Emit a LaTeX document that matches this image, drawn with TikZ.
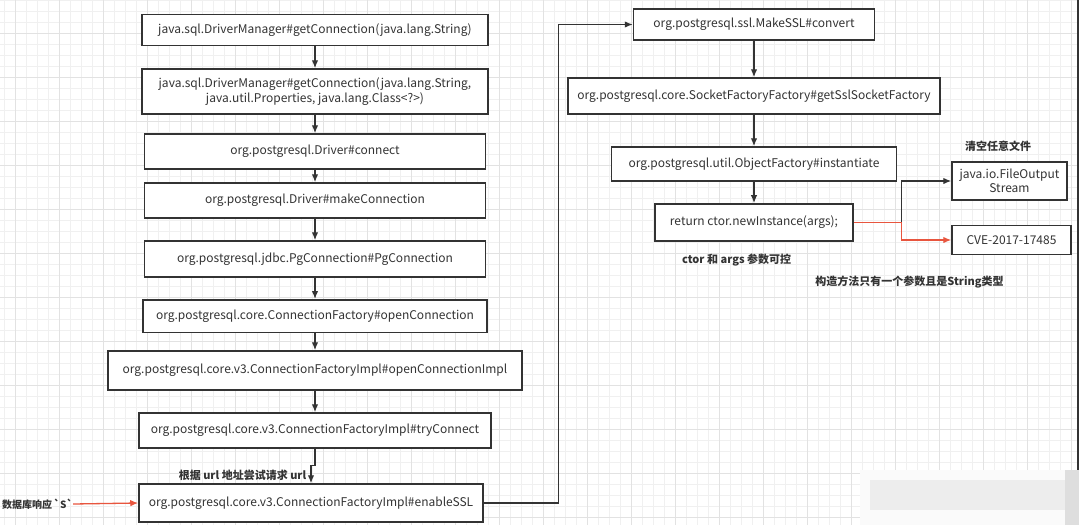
\documentclass[tikz,border=0pt]{standalone}
\usepackage{fontspec}
\setmainfont{Noto Sans CJK SC}
\usetikzlibrary{arrows.meta}
\definecolor{cfdark}{HTML}{333333}
\definecolor{cfred}{HTML}{E8553E}
\definecolor{cfminor}{HTML}{F0F0F0}
\definecolor{cfmajor}{HTML}{E2E2E2}
\tikzset{
  cfbox/.style={rectangle, draw=cfdark, line width=1.5pt, fill=white,
                text=cfdark, inner sep=0pt, align=center,
                font=\fontsize{12}{14.5}\selectfont},
  cfplain/.style={draw=cfdark, line width=1.3pt},
  cflink/.style={cfplain, -{Latex[length=8pt,width=6.5pt]}},
  cfalert/.style={draw=cfred, line width=1.3pt, -{Latex[length=8pt,width=6.5pt]}},
  cfnote/.style={text=cfdark, inner sep=0pt,
                 font=\fontsize{11}{13}\selectfont\bfseries},
  gridminor/.style={draw=cfminor, line width=0.8pt},
  gridmajor/.style={draw=cfmajor, line width=0.8pt}
}

\begin{document}
\begin{tikzpicture}[x=1pt, y=-1pt]
  \useasboundingbox (0,0) rectangle (1079,525);
  \fill[white] (0,0) rectangle (1079,525);
  \foreach \x in {4.3,15.3,...,1078} \draw[gridminor] (\x,0) -- (\x,525);
  \foreach \y in {0.3,11.3,...,525} \draw[gridminor] (0,\y) -- (1079,\y);
  \foreach \x in {15.3,59.3,...,1078} \draw[gridmajor] (\x,0) -- (\x,525);
  \foreach \y in {33.3,77.3,...,525} \draw[gridmajor] (0,\y) -- (1079,\y);

  % left column
  \node[cfbox, minimum width=346pt, minimum height=31pt] (getconn) at (315,30)
    {java.sql.DriverManager\#getConnection(java.lang.String)};
  \node[cfbox, minimum width=346pt, minimum height=45pt] (getconnprops) at (315,91.5)
    {java.sql.DriverManager\#getConnection(java.lang.String,\\
     java.util.Properties, java.lang.Class<?>)};
  \node[cfbox, minimum width=341pt, minimum height=35pt] (connect) at (315,151.5)
    {org.postgresql.Driver\#connect};
  \node[cfbox, minimum width=341pt, minimum height=35pt] (makeconn) at (315,200.5)
    {org.postgresql.Driver\#makeConnection};
  \node[cfbox, minimum width=341pt, minimum height=36pt] (pgconn) at (315,259)
    {org.postgresql.jdbc.PgConnection\#PgConnection};
  \node[cfbox, minimum width=344pt, minimum height=32.5pt] (openconn) at (315,316)
    {org.postgresql.core.ConnectionFactory\#openConnection};
  \node[cfbox, minimum width=414pt, minimum height=39pt] (openconnimpl) at (315,370.5)
    {org.postgresql.core.v3.ConnectionFactoryImpl\#openConnectionImpl};
  \node[cfbox, minimum width=352pt, minimum height=35pt] (tryconnect) at (315,430.5)
    {org.postgresql.core.v3.ConnectionFactoryImpl\#tryConnect};
  \node[cfbox, minimum width=344pt, minimum height=38pt] (enablessl) at (311,503)
    {org.postgresql.core.v3.ConnectionFactoryImpl\#enableSSL};

  % right column
  \node[cfbox, minimum width=241pt, minimum height=31pt] (makessl) at (754,24.5)
    {org.postgresql.ssl.MakeSSL\#convert};
  \node[cfbox, minimum width=372pt, minimum height=36pt] (sslfactory) at (754,96)
    {org.postgresql.core.SocketFactoryFactory\#getSslSocketFactory};
  \node[cfbox, minimum width=285pt, minimum height=34pt] (objfactory) at (754,164)
    {org.postgresql.util.ObjectFactory\#instantiate};
  \node[cfbox, minimum width=198pt, minimum height=37pt] (newinstance) at (754,222.4)
    {return ctor.newInstance(args);};
  \node[cfbox, minimum width=115pt, minimum height=38pt] (fileout) at (1009.5,181)
    {java.io.FileOutput\\Stream};
  \node[cfbox, minimum width=119pt, minimum height=29pt] (cve) at (1011.5,240)
    {CVE-2017-17485};

  % notes
  \node[cfnote] (urlnote) at (242.5,475) {根据 url 地址尝试请求 url};
  \node[cfnote, anchor=west, font=\fontsize{10}{12}\selectfont\bfseries]
    (respnote) at (2,504) {数据库响应\,{\textasciigrave}S{\textasciigrave}};
  \node[cfnote] (clearnote) at (998,146) {清空任意文件};
  \node[cfnote] (ctornote) at (736.6,260) {ctor 和 args 参数可控};
  \node[cfnote] (ctrnote) at (909.5,282) {构造方法只有一个参数且是String类型};

  \foreach \a/\b in {getconn/getconnprops, getconnprops/connect, connect/makeconn,
                     makeconn/pgconn, pgconn/openconn, openconn/openconnimpl,
                     openconnimpl/tryconnect, makessl/sslfactory,
                     sslfactory/objfactory, objfactory/newinstance}
    \draw[cflink] (\a.south) -- (\b.north);
  \draw[cflink] (tryconnect.south) -- ++(0,17) -| (enablessl.north);
  \draw[cflink] (enablessl.east) -- ++(75,0) |- (makessl.west);
  \draw[cfalert] (respnote.east) -- (enablessl.west);

  \coordinate (fork) at (901.6,222.4);
  \draw[cflink] (fork) |- (fileout.west);
  \draw[cfalert] (newinstance.east) -- (fork) |- (cve.west);

  % screenshot edge and blurred mark
  \draw[cfdark, line width=2pt] (1077.5,0) -- (1077.5,470);
  \fill[black!2] (860,470) rectangle (1065,525);
  \fill[black!7] (870,480) rectangle (1065,510);
  \fill[black!13] (1065,470) rectangle (1079,525);
\end{tikzpicture}
\end{document}
